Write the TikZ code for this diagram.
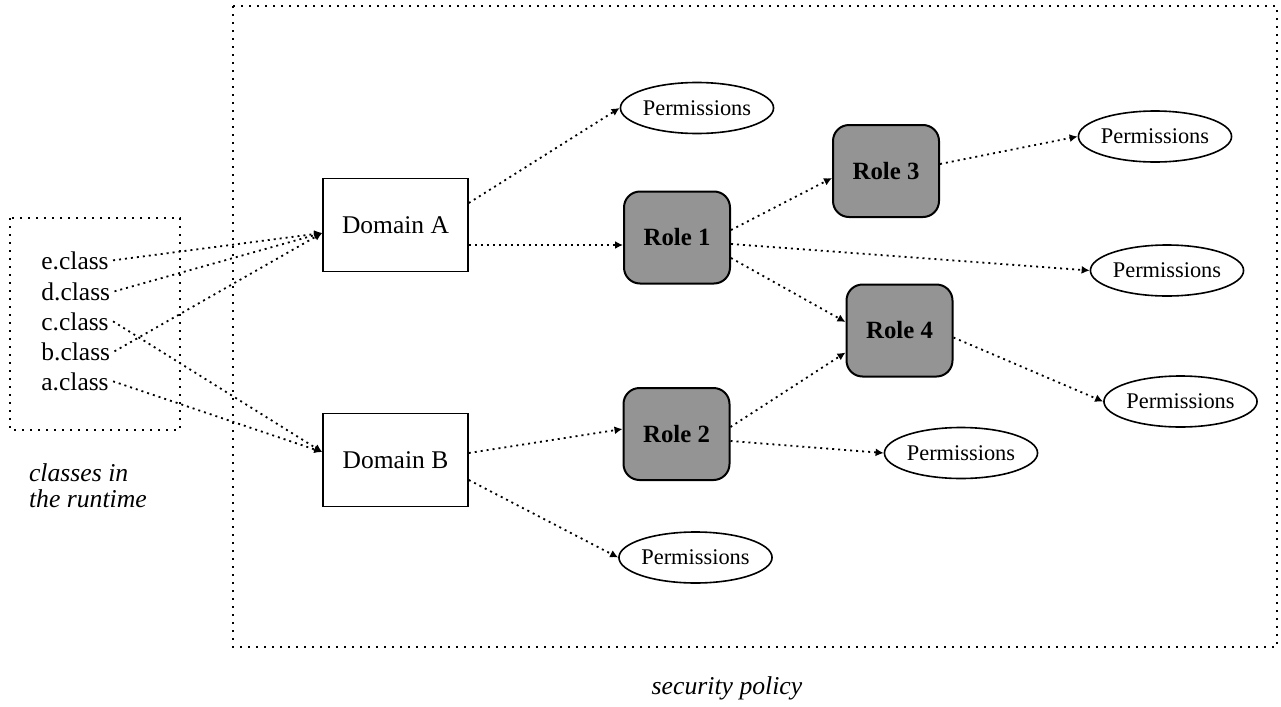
\documentclass[tikz,border=0pt]{standalone}
\usepackage{fontspec}
\setmainfont{Liberation Serif}
\usetikzlibrary{arrows.meta,shapes.geometric}

\begin{document}
\begin{tikzpicture}[x=0.5pt, y=-0.5pt,
    dombox/.style={draw, line width=0.8pt, minimum width=72.5pt, minimum height=46.5pt, font=\fontsize{12.75}{15}\selectfont},
    rolebox/.style={draw, line width=1pt, rounded corners=8pt, fill=black!42, minimum width=53pt, minimum height=46pt, font=\fontsize{12.4}{15}\selectfont\bfseries},
    perm/.style={draw, ellipse, line width=0.8pt, inner sep=0pt, minimum width=72pt, minimum height=25.5pt, font=\fontsize{11.2}{13}\selectfont},
    cls/.style={anchor=base west, inner sep=2pt, font=\fontsize{12.75}{15}\selectfont},
    captxt/.style={font=\fontsize{12.85}{13}\selectfont\itshape},
    framebox/.style={line width=1pt, dash pattern=on 1pt off 3pt},
    arr/.style={-{Latex[length=4pt,width=4pt]}, line width=0.9pt, dash pattern=on 1pt off 2pt}
]
\useasboundingbox (0,0) rectangle (1281,707);

% frames
\draw[framebox] (233,6) rectangle (1277,647);
\draw[framebox] (10,218) rectangle (180,430);

% classes in the runtime
\node[cls] (e) at (37,269) {e.class};
\node[cls] (d) at (37,300) {d.class};
\node[cls] (c) at (37,330) {c.class};
\node[cls] (b) at (37,360) {b.class};
\node[cls] (a) at (37,390) {a.class};
\node[captxt, anchor=west, align=left] (rt) at (22,486) {classes in\\the runtime};

% domains and roles
\node[dombox] (dA) at (395.5,225) {Domain A};
\node[dombox] (dB) at (395.5,460) {Domain B};
\node[rolebox] (r1) at (677,237.5) {Role 1};
\node[rolebox] (r2) at (676.5,434) {Role 2};
\node[rolebox] (r3) at (886,171) {Role 3};
\node[rolebox] (r4) at (899.5,330.5) {Role 4};

% permissions
\node[perm] (p1) at (697,108) {Permissions};
\node[perm] (p2) at (1155,136.5) {Permissions};
\node[perm] (p3) at (1167,270.5) {Permissions};
\node[perm] (p4) at (1180.5,401.5) {Permissions};
\node[perm] (p5) at (961,453) {Permissions};
\node[perm] (p6) at (695.5,557.5) {Permissions};

\node[captxt] (sp) at (727,688) {security policy};

% classes -> domains
\draw[arr] (e.east) -- ([yshift=-4pt]dA.west);
\draw[arr] (d.east) -- ([yshift=-4pt]dA.west);
\draw[arr] (b.east) -- ([yshift=-4pt]dA.west);
\draw[arr] (c.east) -- ([yshift=4pt]dB.west);
\draw[arr] (a.east) -- ([yshift=4pt]dB.west);

% domain A
\draw[arr] ([yshift=11pt]dA.east) -- (p1.west);
\draw[arr] ([yshift=-10pt]dA.east) -- ([yshift=-3.75pt]r1.west);

% domain B
\draw[arr] ([yshift=3.5pt]dB.east) -- ([yshift=2.5pt]r2.west);
\draw[arr] ([yshift=-10pt]dB.east) -- (p6.west);

% roles
\draw[arr] ([yshift=3.75pt]r1.east) -- ([yshift=-3.5pt]r3.west);
\draw[arr] ([yshift=-3.25pt]r1.east) -- (p3.west);
\draw[arr] ([yshift=-10.25pt]r1.east) -- ([yshift=4.25pt]r4.west);
\draw[arr] ([yshift=3.5pt]r2.east) -- ([yshift=-11pt]r4.west);
\draw[arr] ([yshift=-3.5pt]r2.east) -- (p5.west);
\draw[arr] ([yshift=3.5pt]r3.east) -- (p2.west);
\draw[arr] ([yshift=-3.5pt]r4.east) -- (p4.west);
\end{tikzpicture}
\end{document}
